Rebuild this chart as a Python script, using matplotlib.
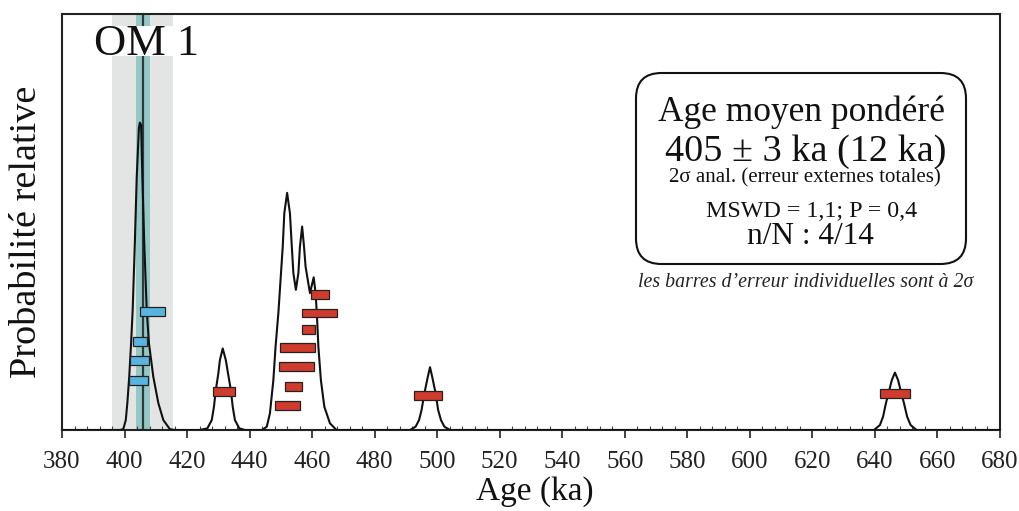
import matplotlib
matplotlib.use("Agg")
import matplotlib.pyplot as plt
from matplotlib.patches import FancyBboxPatch, Rectangle
from matplotlib.ticker import MultipleLocator

plt.rcParams['font.family'] = ['Liberation Serif', 'DejaVu Serif']

# ---- data ----
# relative probability curve (age in ka, relative height)
pdp_age = [380,
           398.5, 399.6, 400.4, 400.9, 401.5, 402.1, 402.6, 403.3, 403.9, 404.6, 404.9,
           405.3, 405.7, 406.3, 407.1, 407.8, 409.2, 410.8, 412.4, 414.5, 416.1,
           424.1, 426.5, 427.9, 428.6, 429.2, 430.0, 430.5, 431.4, 432.4, 433.1, 434.0,
           434.6, 435.3, 436.7, 438.5,
           444.0, 445.5, 446.5, 447.6, 448.3, 449.2, 449.9, 450.6, 451.1, 452.0, 452.9,
           453.5, 454.0, 454.8, 455.6, 456.1, 456.8, 457.4, 457.9, 459.3, 460.5, 461.1,
           461.5, 462.0, 462.8, 463.9, 465.7, 467.8,
           491.3, 493.1, 494.2, 495.0, 495.9, 497.0, 497.7, 498.4, 499.5, 500.3, 501.2,
           502.3, 504.1,
           639.7, 641.6, 642.6, 643.5, 644.6, 645.4, 646.4, 647.4, 648.2, 649.3, 650.3,
           651.4, 653.3,
           680]
pdp_prob = [0,
            0, 0.002, 0.024, 0.065, 0.128, 0.209, 0.288, 0.450, 0.608, 0.726, 0.739,
            0.733, 0.608, 0.450, 0.288, 0.209, 0.128, 0.065, 0.024, 0.002, 0,
            0, 0.004, 0.024, 0.056, 0.096, 0.136, 0.168, 0.196, 0.168, 0.136, 0.096,
            0.056, 0.024, 0.004, 0,
            0, 0.008, 0.040, 0.120, 0.200, 0.281, 0.361, 0.441, 0.521, 0.570, 0.521,
            0.441, 0.377, 0.337, 0.377, 0.441, 0.489, 0.441, 0.393, 0.329, 0.367, 0.329,
            0.281, 0.200, 0.120, 0.056, 0.016, 0,
            0, 0.008, 0.024, 0.048, 0.088, 0.128, 0.151, 0.128, 0.088, 0.048, 0.024,
            0.008, 0,
            0, 0.012, 0.032, 0.064, 0.096, 0.120, 0.138, 0.120, 0.096, 0.064, 0.032,
            0.012, 0,
            0]

# grains used in the mean (blue): age, 2-sigma error, stacking level
used_age = [408.8, 404.9, 404.9, 404.5]
used_err = [4.0, 2.3, 3.0, 3.0]
used_level = [0.285, 0.213, 0.167, 0.119]

# rejected grains (red)
rej_age = [431.8, 462.5, 462.3, 458.8, 455.4, 455.0, 454.0, 452.2, 497.1, 646.5]
rej_err = [3.6, 2.8, 5.7, 2.2, 5.55, 5.7, 2.75, 3.95, 4.5, 4.75]
rej_level = [0.093, 0.326, 0.281, 0.241, 0.198, 0.152, 0.105, 0.059, 0.083, 0.087]

# weighted mean
mean_age = 405.8
mean_err_anal = 2.2
mean_err_ext = 9.8

x_min, x_max = 380, 680
x_major = 20
x_minor = 4

# ---- figure ----
W, H = 1019, 511
fig = plt.figure(figsize=(W / 100, H / 100), dpi=100)
ax = fig.add_axes([62 / W, 1 - 430 / H, 938 / W, 416 / H])

ax.axvspan(mean_age - mean_err_ext, mean_age + mean_err_ext, color='#e3e5e5', lw=0, zorder=0)
ax.axvspan(mean_age - mean_err_anal, mean_age + mean_err_anal, color='#95c7c5', lw=0, zorder=1)
ax.axvline(mean_age, color='#2b3b3b', lw=1.6, zorder=2)

ax.plot(pdp_age, pdp_prob, color='#111111', lw=1.5, zorder=3, solid_joinstyle='round')

bar_h = 0.021
ax.barh(used_level, [2 * e for e in used_err], left=[a - e for a, e in zip(used_age, used_err)],
        height=bar_h, color='#5ab4e2', edgecolor='#222222', lw=0.9, zorder=4)
ax.barh(rej_level, [2 * e for e in rej_err], left=[a - e for a, e in zip(rej_age, rej_err)],
        height=bar_h, color='#cf3b2d', edgecolor='#222222', lw=0.9, zorder=4)

ax.set_xlim(x_min, x_max)
ax.set_ylim(0, 1)
ax.xaxis.set_major_locator(MultipleLocator(x_major))
ax.xaxis.set_minor_locator(MultipleLocator(x_minor))
ax.tick_params(axis='x', which='major', direction='out', length=6, width=1.2,
               labelsize=18, pad=9, colors='#222222')
ax.tick_params(axis='x', which='minor', direction='in', length=3, width=0.8, colors='#444444')
ax.tick_params(axis='y', left=False, labelleft=False)
for s in ax.spines.values():
    s.set_linewidth(1.5)
    s.set_color('#222222')

# OM 1 label on a white patch
fig.patches.append(Rectangle((90 / W, 1 - 56 / H), 115 / W, 30 / H, transform=fig.transFigure,
                             facecolor='white', edgecolor='none', zorder=1))
fig.text(146 / W, 1 - 55 / H, 'OM 1', fontsize=32, ha='center', va='baseline', color='#111111',
         zorder=2)

# axis labels
fig.text(535 / W, 1 - 500 / H, 'Age (ka)', fontsize=24, ha='center', va='baseline', color='#111111')
fig.text(27 / W, 1 - 232 / H, 'Probabilité relative', fontsize=27.5, rotation=90,
         ha='center', va='center', color='#111111')

# result box
box = FancyBboxPatch((636 / W, 1 - 264 / H), (966 - 636) / W, (264 - 73) / H,
                     boxstyle='round,pad=0,rounding_size=0.025', mutation_aspect=W / H,
                     transform=fig.transFigure, facecolor='white', edgecolor='#111111',
                     lw=1.5, zorder=5)
fig.patches.append(box)

kw = dict(ha='center', va='baseline', color='#111111', zorder=6)
fig.text(801 / W, 1 - 121 / H, 'Age moyen pondéré', fontsize=25.5, **kw)
fig.text(806 / W, 1 - 161 / H, '405 ± 3 ka (12 ka)', fontsize=27.5, **kw)
fig.text(805 / W, 1 - 182 / H, '2σ anal. (erreur externes totales)', fontsize=15, **kw)
fig.text(812 / W, 1 - 217 / H, 'MSWD = 1,1; P = 0,4', fontsize=17.3, **kw)
fig.text(810 / W, 1 - 244 / H, 'n/N : 4/14', fontsize=22.5, **kw)
fig.text(806 / W, 1 - 287 / H, 'les barres d’erreur individuelles sont à 2σ', fontsize=14.3,
         style='italic', ha='center', va='baseline', color='#222222', zorder=6)

fig.savefig('out.png', dpi=100, facecolor='white')
